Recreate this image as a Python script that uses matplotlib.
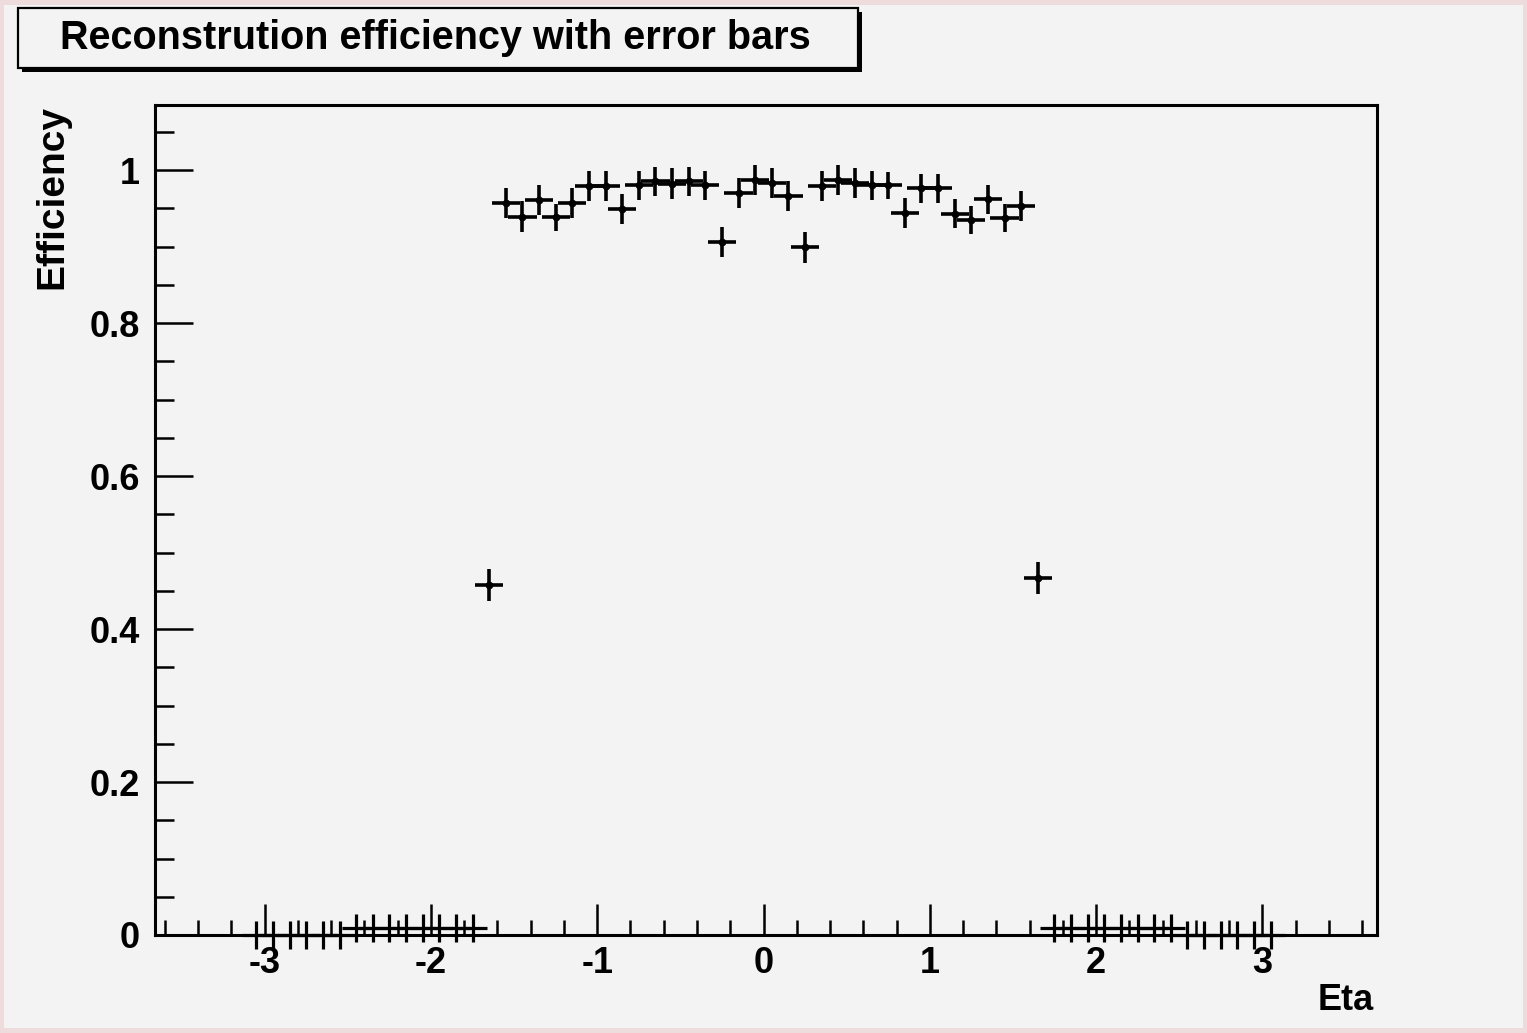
import matplotlib
matplotlib.use("Agg")
import matplotlib.pyplot as plt
from matplotlib.patches import Rectangle
from matplotlib.ticker import MultipleLocator, FixedLocator

plt.rcParams["font.family"] = ["Liberation Sans", "DejaVu Sans"]
plt.rcParams["font.weight"] = "bold"
plt.rcParams["axes.unicode_minus"] = False

# efficiency per eta bin (central region)
eta_mid = [-1.65, -1.55, -1.45, -1.35, -1.25, -1.15, -1.05, -0.95, -0.85,
           -0.75, -0.65, -0.55, -0.45, -0.35, -0.25, -0.15, -0.05,
           0.05, 0.15, 0.25, 0.35, 0.45, 0.55, 0.65, 0.75, 0.85,
           0.95, 1.05, 1.15, 1.25, 1.35, 1.45, 1.55, 1.65]
eff_mid = [0.458, 0.957, 0.939, 0.961, 0.938, 0.957, 0.979, 0.979, 0.949,
           0.980, 0.985, 0.982, 0.985, 0.980, 0.906, 0.970, 0.987,
           0.983, 0.966, 0.899, 0.979, 0.987, 0.983, 0.980, 0.980, 0.944,
           0.976, 0.976, 0.943, 0.935, 0.962, 0.937, 0.953, 0.467]
err_mid = [0.021, 0.020, 0.020, 0.020, 0.018, 0.020, 0.020, 0.020, 0.020,
           0.019, 0.019, 0.020, 0.019, 0.019, 0.020, 0.020, 0.019,
           0.019, 0.020, 0.020, 0.020, 0.019, 0.019, 0.019, 0.018, 0.020,
           0.019, 0.019, 0.019, 0.018, 0.019, 0.018, 0.020, 0.021]

# forward bins, efficiency ~ 0
eta_fwd = [-3.05, -2.95, -2.85, -2.75, -2.65, -2.55, -2.45, -2.35, -2.25,
           -2.15, -2.05, -1.95, -1.85, -1.75,
           1.75, 1.85, 1.95, 2.05, 2.15, 2.25, 2.35, 2.45,
           2.55, 2.65, 2.75, 2.85, 2.95, 3.05]
eff_fwd = [0.0, 0.0, 0.0, 0.0, 0.0, 0.0, 0.009, 0.009, 0.009,
           0.009, 0.009, 0.009, 0.009, 0.009,
           0.009, 0.009, 0.009, 0.009, 0.009, 0.009, 0.009, 0.009,
           0.0, 0.0, 0.0, 0.0, 0.0, 0.0]
err_fwd = [0.018] * len(eta_fwd)

BIN_HALF = 0.085
W, H = 1527, 1033

fig = plt.figure(figsize=(W / 100, H / 100), dpi=100)
fig.patch.set_facecolor("#eedcdc")
fig.patches.append(Rectangle((4 / W, 5 / H), 1 - 8 / W, 1 - 10 / H,
                             transform=fig.transFigure, facecolor="#f3f3f3",
                             edgecolor="none", zorder=-10))

ax = fig.add_axes([155 / W, 1 - 935 / H, (1377 - 155) / W, (935 - 105) / H])
ax.set_facecolor("#f3f3f3")

ax.errorbar(eta_mid, eff_mid, yerr=err_mid, xerr=BIN_HALF, fmt="o",
            color="black", markersize=4.5, ecolor="black", elinewidth=2.6,
            capsize=0, clip_on=False)
ax.errorbar(eta_fwd, eff_fwd, yerr=err_fwd, xerr=BIN_HALF, fmt="none",
            ecolor="black", elinewidth=2.3, capsize=0, clip_on=False)

ax.set_xlim(-3.66, 3.69)
ax.set_ylim(0, 1.085)
ax.xaxis.set_major_locator(FixedLocator([-3, -2, -1, 0, 1, 2, 3]))
ax.xaxis.set_minor_locator(MultipleLocator(0.2))
ax.yaxis.set_major_locator(FixedLocator([0, 0.2, 0.4, 0.6, 0.8, 1.0]))
ax.yaxis.set_minor_locator(MultipleLocator(0.05))
ax.set_xticklabels(["-3", "-2", "-1", "0", "1", "2", "3"])
ax.set_yticklabels(["0", "0.2", "0.4", "0.6", "0.8", "1"])

ax.tick_params(axis="x", which="major", direction="in", length=22, width=1.8,
               pad=8, labelsize=26)
ax.tick_params(axis="x", which="minor", direction="in", length=11, width=1.8)
ax.tick_params(axis="y", which="major", direction="in", length=27, width=1.8,
               pad=11, labelsize=26)
ax.tick_params(axis="y", which="minor", direction="in", length=14, width=1.8)
for sp in ax.spines.values():
    sp.set_linewidth(2.2)

fig.text(52 / W, 1 - 105 / H, "Efficiency", rotation=90, ha="center",
         va="top", fontsize=28, fontweight="bold")
fig.text(1374 / W, 1 - 1000 / H, "Eta", ha="right", va="center",
         fontsize=26, fontweight="bold")

# title box with drop shadow
fig.patches.append(Rectangle((22 / W, 1 - 72 / H), 840 / W, 60 / H,
                             transform=fig.transFigure, facecolor="black",
                             edgecolor="none", zorder=1))
fig.patches.append(Rectangle((18 / W, 1 - 68 / H), 840 / W, 60 / H,
                             transform=fig.transFigure, facecolor="#f3f3f3",
                             edgecolor="black", linewidth=1.6, zorder=2))
fig.text(435 / W, 1 - 38 / H, "Reconstrution efficiency with error bars",
         ha="center", va="center", fontsize=28.5, fontweight="bold", zorder=3)

fig.savefig("out.png", dpi=100, facecolor=fig.get_facecolor())
